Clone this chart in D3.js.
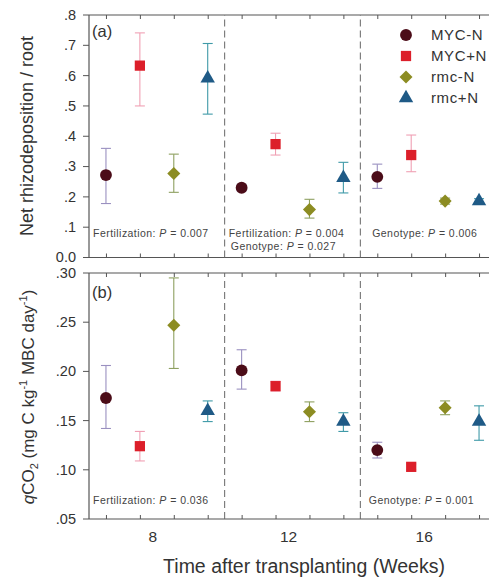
<!DOCTYPE html>
<html>
<head>
<meta charset="utf-8">
<script src="https://cdn.jsdelivr.net/npm/d3@7"></script>
<style>
  html, body { margin: 0; padding: 0; background: #fff; }
  svg { display: block; font-family: "Liberation Sans", Arial, sans-serif; }
</style>
</head>
<body>
<svg id="chart" width="489" height="582"></svg>
<script>
// Treatments, drawn side by side within each sampling week
const treatments = ["MYC-N", "MYC+N", "rmc-N", "rmc+N"];
const weeks = [8, 12, 16];
const offsets = [-1.5, -0.5, 0.5, 1.5];

// (a) Net rhizodeposition / root: mean, lower, upper per week
const rhizoMean = {
  "MYC-N": [0.272, 0.230, 0.266],
  "MYC+N": [0.633, 0.374, 0.338],
  "rmc-N": [0.277, 0.158, 0.186],
  "rmc+N": [0.591, 0.263, 0.186]
};
const rhizoLow = {
  "MYC-N": [0.178, 0.220, 0.228],
  "MYC+N": [0.500, 0.338, 0.283],
  "rmc-N": [0.215, 0.130, 0.176],
  "rmc+N": [0.473, 0.213, 0.178]
};
const rhizoHigh = {
  "MYC-N": [0.360, 0.240, 0.308],
  "MYC+N": [0.741, 0.410, 0.404],
  "rmc-N": [0.341, 0.192, 0.196],
  "rmc+N": [0.706, 0.314, 0.194]
};

// (b) qCO2: mean, lower, upper per week
const qco2Mean = {
  "MYC-N": [0.173, 0.201, 0.120],
  "MYC+N": [0.124, 0.185, 0.103],
  "rmc-N": [0.247, 0.159, 0.163],
  "rmc+N": [0.160, 0.149, 0.149]
};
const qco2Low = {
  "MYC-N": [0.142, 0.182, 0.112],
  "MYC+N": [0.109, 0.180, 0.100],
  "rmc-N": [0.203, 0.149, 0.156],
  "rmc+N": [0.149, 0.139, 0.130]
};
const qco2High = {
  "MYC-N": [0.206, 0.222, 0.128],
  "MYC+N": [0.139, 0.190, 0.106],
  "rmc-N": [0.295, 0.169, 0.170],
  "rmc+N": [0.170, 0.158, 0.165]
};

const rhizoTicks = [0, 0.1, 0.2, 0.3, 0.4, 0.5, 0.6, 0.7, 0.8];
const rhizoTickLabels = ["0.0", ".1", ".2", ".3", ".4", ".5", ".6", ".7", ".8"];
const qco2Ticks = [0.05, 0.10, 0.15, 0.20, 0.25, 0.30];
const qco2TickLabels = [".05", ".10", ".15", ".20", ".25", ".30"];
const weekLabels = ["8", "12", "16"];
const dividers = [10, 14];

const rhizoStats = [
  { text: ["Fertilization: ", "P", " = 0.007"], wk: 6.12, y: 0.066 },
  { text: ["Fertilization: ", "P", " = 0.004"], wk: 10.12, y: 0.066 },
  { text: ["Genotype: ", "P", " = 0.027"], wk: 10.18, y: 0.025 },
  { text: ["Genotype: ", "P", " = 0.006"], wk: 14.35, y: 0.066 }
];
const qco2Stats = [
  { text: ["Fertilization: ", "P", " = 0.036"], wk: 6.12, y: 0.065 },
  { text: ["Genotype: ", "P", " = 0.001"], wk: 14.25, y: 0.065 }
];

const markColor = { "MYC-N": "#4b0c18", "MYC+N": "#dc1f2a", "rmc-N": "#8c8c22", "rmc+N": "#1f5a86" };
const barColor  = { "MYC-N": "#9a90c0", "MYC+N": "#f0a0b4", "rmc-N": "#8ea060", "rmc+N": "#3f9aa8" };
const symbolType = { "MYC-N": d3.symbolCircle, "MYC+N": d3.symbolSquare, "rmc-N": d3.symbolSquare, "rmc+N": d3.symbolTriangle };
const symbolSize = { "MYC-N": 110, "MYC+N": 105, "rmc-N": 85, "rmc+N": 90 };
const symbolRotate = { "MYC-N": 0, "MYC+N": 0, "rmc-N": 45, "rmc+N": 0 };

const svg = d3.select("#chart");
const left = 89, right = 496;

const x = d3.scaleLinear().domain([6, 18]).range([left, right]);
const yA = d3.scaleLinear().domain([0, 0.8]).range([257.5, 15]);
const yB = d3.scaleLinear().domain([0.05, 0.30]).range([519, 273]);

const tickWeeks = [];
weeks.forEach(w => offsets.forEach(o => tickWeeks.push(w + o)));

function marker(sel, tr, cx, cy) {
  sel.append("path")
    .attr("d", d3.symbol().type(symbolType[tr]).size(symbolSize[tr])())
    .attr("transform", `translate(${cx},${cy}) rotate(${symbolRotate[tr]})`)
    .attr("fill", markColor[tr]);
}

function panel(y, mean, low, high, ticks, tickLabels, stats, tag, tagDy, showX) {
  const g = svg.append("g");
  const [y0, y1] = y.range();

  // frame lines
  g.append("line").attr("x1", left).attr("x2", right).attr("y1", y0).attr("y2", y0)
    .attr("stroke", "#555").attr("stroke-width", 1.2);
  g.append("line").attr("x1", left).attr("x2", right).attr("y1", y1).attr("y2", y1)
    .attr("stroke", "#555").attr("stroke-width", 1.2);
  g.append("line").attr("x1", left).attr("x2", left).attr("y1", y0).attr("y2", y1)
    .attr("stroke", "#555").attr("stroke-width", 1.2);

  // x ticks, pointing inward on both edges
  const bottomAxis = d3.axisBottom(x).tickValues(tickWeeks).tickSize(-4).tickFormat("");
  g.append("g").attr("transform", `translate(0,${y0})`).call(bottomAxis)
    .call(a => a.select(".domain").remove())
    .selectAll("line").attr("stroke", "#555");
  const topAxis = d3.axisTop(x).tickValues(tickWeeks).tickSize(-4).tickFormat("");
  g.append("g").attr("transform", `translate(0,${y1})`).call(topAxis)
    .call(a => a.select(".domain").remove())
    .selectAll("line").attr("stroke", "#555");

  if (showX) {
    g.append("g").selectAll("text").data(weeks).join("text")
      .attr("x", d => x(d) - 4).attr("y", y0 + 23)
      .attr("text-anchor", "middle").attr("font-size", 15.5).attr("fill", "#333")
      .text((d, i) => weekLabels[i]);
  }

  // y ticks (outward) and their labels
  g.append("g").selectAll("line").data(ticks).join("line")
    .attr("x1", left - 6).attr("x2", left)
    .attr("y1", d => y(d)).attr("y2", d => y(d))
    .attr("stroke", "#555");
  g.append("g").selectAll("text").data(ticks).join("text")
    .attr("x", left - 13).attr("y", d => y(d)).attr("dy", "0.34em")
    .attr("text-anchor", "end").attr("font-size", 14.5).attr("fill", "#333")
    .text((d, i) => tickLabels[i]);

  // dashed week dividers
  dividers.forEach(d => {
    g.append("line").attr("x1", x(d)).attr("x2", x(d)).attr("y1", y0).attr("y2", y1)
      .attr("stroke", "#666").attr("stroke-width", 1).attr("stroke-dasharray", "7,4");
  });

  // panel tag
  g.append("text").attr("x", left + 3).attr("y", y1 + tagDy).attr("font-size", 16.5)
    .attr("fill", "#333").text(tag);

  // statistics notes
  stats.forEach(s => {
    const t = g.append("text").attr("x", x(s.wk)).attr("y", y(s.y))
      .attr("font-size", 10.5).attr("letter-spacing", 0.45).attr("fill", "#444");
    t.append("tspan").text(s.text[0]);
    t.append("tspan").attr("font-style", "italic").text(s.text[1]);
    t.append("tspan").text(s.text[2]);
  });

  // error bars and markers
  treatments.forEach((tr, ti) => {
    weeks.forEach((w, wi) => {
      const cx = x(w + offsets[ti]);
      const lo = y(low[tr][wi]), hi = y(high[tr][wi]), m = y(mean[tr][wi]);
      const eb = g.append("g").attr("stroke", barColor[tr]).attr("stroke-width", 1.1);
      eb.append("line").attr("x1", cx).attr("x2", cx).attr("y1", lo).attr("y2", hi);
      eb.append("line").attr("x1", cx - 5).attr("x2", cx + 5).attr("y1", lo).attr("y2", lo);
      eb.append("line").attr("x1", cx - 5).attr("x2", cx + 5).attr("y1", hi).attr("y2", hi);
      marker(g, tr, cx, m);
    });
  });
}

panel(yA, rhizoMean, rhizoLow, rhizoHigh, rhizoTicks, rhizoTickLabels, rhizoStats, "(a)", 22, false);
panel(yB, qco2Mean, qco2Low, qco2High, qco2Ticks, qco2TickLabels, qco2Stats, "(b)", 25, true);

// legend
const legend = svg.append("g");
treatments.forEach((tr, i) => {
  const ly = 35 + i * 21;
  marker(legend, tr, 406, ly);
  legend.append("text").attr("x", 431).attr("y", ly + 5).attr("font-size", 15)
    .attr("letter-spacing", 0.6).attr("fill", "#333").text(tr);
});

// axis titles
svg.append("text")
  .attr("transform", "translate(33,136) rotate(-90)")
  .attr("text-anchor", "middle").attr("font-size", 18).attr("fill", "#333")
  .text("Net rhizodeposition / root");

const qt = svg.append("text")
  .attr("transform", "translate(34,397) rotate(-90)")
  .attr("text-anchor", "middle").attr("font-size", 17).attr("fill", "#333");
qt.append("tspan").attr("font-style", "italic").text("q");
qt.append("tspan").text("CO");
qt.append("tspan").attr("font-size", 11).attr("dy", 4).text("2");
qt.append("tspan").attr("dy", -4).text(" (mg C kg");
qt.append("tspan").attr("font-size", 11).attr("dy", -7).text("-1");
qt.append("tspan").attr("dy", 7).text(" MBC day");
qt.append("tspan").attr("font-size", 11).attr("dy", -7).text("-1");
qt.append("tspan").attr("dy", 7).text(")");

svg.append("text")
  .attr("x", 304).attr("y", 573).attr("text-anchor", "middle")
  .attr("font-size", 19.5).attr("fill", "#333")
  .text("Time after transplanting (Weeks)");
</script>
</body>
</html>
